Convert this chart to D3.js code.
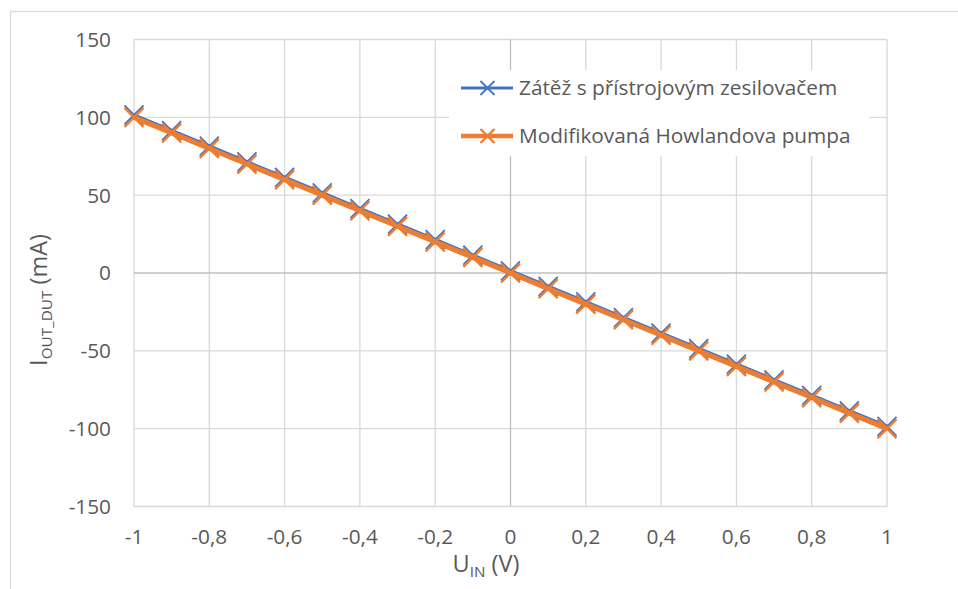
<!DOCTYPE html>
<html>
<head>
<meta charset="utf-8">
<script src="https://cdn.jsdelivr.net/npm/d3@7"></script>
<style>
  html, body { margin: 0; padding: 0; background: #fff; }
  svg { display: block; font-family: "Open Sans", sans-serif; }
</style>
</head>
<body>
<svg id="chart" width="958" height="589"></svg>
<script>
// Input voltage (V)
const uIn = [-1, -0.9, -0.8, -0.7, -0.6, -0.5, -0.4, -0.3, -0.2, -0.1, 0,
             0.1, 0.2, 0.3, 0.4, 0.5, 0.6, 0.7, 0.8, 0.9, 1];
// Output current (mA) – load with instrumentation amplifier
const iZatez = [101.5, 91.5, 81.5, 71.4, 61.4, 51.4, 41.4, 31.4, 21.4, 11.4, 1.4,
                -8.6, -18.6, -28.6, -38.6, -48.6, -58.6, -68.6, -78.6, -88.6, -98.6];
// Output current (mA) – modified Howland pump
const iHowland = [100, 90, 80, 70, 60, 50, 40, 30, 20, 10, 0,
                  -10, -20, -30, -40, -50, -60, -70, -80, -90, -100];
const seriesNames = ["Zátěž s přístrojovým zesilovačem", "Modifikovaná Howlandova pumpa"];
const seriesColors = ["#4472C4", "#ED7D31"];
const xTicks = [-1, -0.8, -0.6, -0.4, -0.2, 0, 0.2, 0.4, 0.6, 0.8, 1];
const yTicks = [-150, -100, -50, 0, 50, 100, 150];

const svg = d3.select("#chart");
const W = 958, H = 589;
const plot = { left: 134, right: 887, top: 39.5, bottom: 506.5 };
const textColor = "#595959";
const fs = 20.8;      // tick and legend text
const fsTitle = 23.5; // axis titles

// chart frame
svg.append("rect")
  .attr("x", 10.5).attr("y", 11.5)
  .attr("width", W + 20).attr("height", H + 20)
  .attr("fill", "#fff").attr("stroke", "#d9d9d9").attr("stroke-width", 1.3);

const x = d3.scaleLinear().domain([-1, 1]).range([plot.left, plot.right]);
const y = d3.scaleLinear().domain([-150, 150]).range([plot.bottom, plot.top]);

// gridlines
const grid = svg.append("g");
grid.selectAll(".vg").data(xTicks.filter(d => d !== 0)).enter().append("line")
  .attr("x1", d => x(d)).attr("x2", d => x(d))
  .attr("y1", plot.top).attr("y2", plot.bottom)
  .attr("stroke", "#d9d9d9").attr("stroke-width", 1.3);
grid.selectAll(".hg").data(yTicks.filter(d => d !== 0)).enter().append("line")
  .attr("y1", d => y(d)).attr("y2", d => y(d))
  .attr("x1", plot.left).attr("x2", plot.right)
  .attr("stroke", "#d9d9d9").attr("stroke-width", 1.3);
// zero axes
grid.append("line")
  .attr("x1", x(0)).attr("x2", x(0)).attr("y1", plot.top).attr("y2", plot.bottom)
  .attr("stroke", "#bfbfbf").attr("stroke-width", 1.3);
grid.append("line")
  .attr("y1", y(0)).attr("y2", y(0)).attr("x1", plot.left).attr("x2", plot.right)
  .attr("stroke", "#bfbfbf").attr("stroke-width", 1.3);

// tick labels (decimal comma, hyphen minus)
const fmtX = d => String(d).replace(".", ",");
svg.append("g").selectAll("text").data(xTicks).enter().append("text")
  .attr("x", d => x(d)).attr("y", 544)
  .attr("text-anchor", "middle").attr("fill", textColor).attr("font-size", fs)
  .text(fmtX);
svg.append("g").selectAll("text").data(yTicks).enter().append("text")
  .attr("x", 111).attr("y", d => y(d)).attr("dy", "0.36em")
  .attr("text-anchor", "end").attr("fill", textColor).attr("font-size", fs)
  .text(d => String(d));

// axis titles
const xt = svg.append("text")
  .attr("x", 486).attr("y", 572)
  .attr("text-anchor", "middle").attr("fill", textColor).attr("font-size", fsTitle);
xt.append("tspan").text("U");
xt.append("tspan").attr("font-size", fsTitle * 0.65).attr("dy", 5).text("IN");
xt.append("tspan").attr("dy", -5).text(" (V)");

const yt = svg.append("text")
  .attr("transform", `translate(47,${300}) rotate(-90)`)
  .attr("text-anchor", "middle").attr("fill", textColor).attr("font-size", fsTitle);
yt.append("tspan").text("I");
yt.append("tspan").attr("font-size", fsTitle * 0.65).attr("dy", 5).text("OUT_DUT");
yt.append("tspan").attr("dy", -5).text(" (mA)");

// series
const line = d3.line().x(d => x(d[0])).y(d => y(d[1]));
const series = [
  { data: d3.zip(uIn, iZatez), color: seriesColors[0], lw: 3.5, mw: 1.8 },
  { data: d3.zip(uIn, iHowland), color: seriesColors[1], lw: 5, mw: 2.4 }
];
const mk = 9.5;
series.forEach(s => {
  const g = svg.append("g");
  g.append("path").attr("d", line(s.data))
    .attr("fill", "none").attr("stroke", s.color).attr("stroke-width", s.lw)
    .attr("stroke-linejoin", "round");
  g.selectAll("path.m").data(s.data).enter().append("path")
    .attr("class", "m")
    .attr("d", d => {
      const cx = x(d[0]), cy = y(d[1]);
      return `M${cx - mk},${cy - mk}L${cx + mk},${cy + mk}M${cx - mk},${cy + mk}L${cx + mk},${cy - mk}`;
    })
    .attr("stroke", s.color).attr("stroke-width", s.mw).attr("fill", "none");
});

// legend
const leg = svg.append("g");
leg.append("rect").attr("x", 449).attr("y", 70).attr("width", 420).attr("height", 86).attr("fill", "#fff");
seriesNames.forEach((name, i) => {
  const cy = 88 + i * 48;
  const s = series[i];
  leg.append("line").attr("x1", 461).attr("x2", 513).attr("y1", cy).attr("y2", cy)
    .attr("stroke", s.color).attr("stroke-width", s.lw - 0.5);
  leg.append("path")
    .attr("d", `M${487.5 - 7},${cy - 7}L${487.5 + 7},${cy + 7}M${487.5 - 7},${cy + 7}L${487.5 + 7},${cy - 7}`)
    .attr("stroke", s.color).attr("stroke-width", s.mw);
  leg.append("text").attr("x", 519).attr("y", cy).attr("dy", "0.36em")
    .attr("fill", textColor).attr("font-size", fs).text(name);
});
</script>
</body>
</html>
